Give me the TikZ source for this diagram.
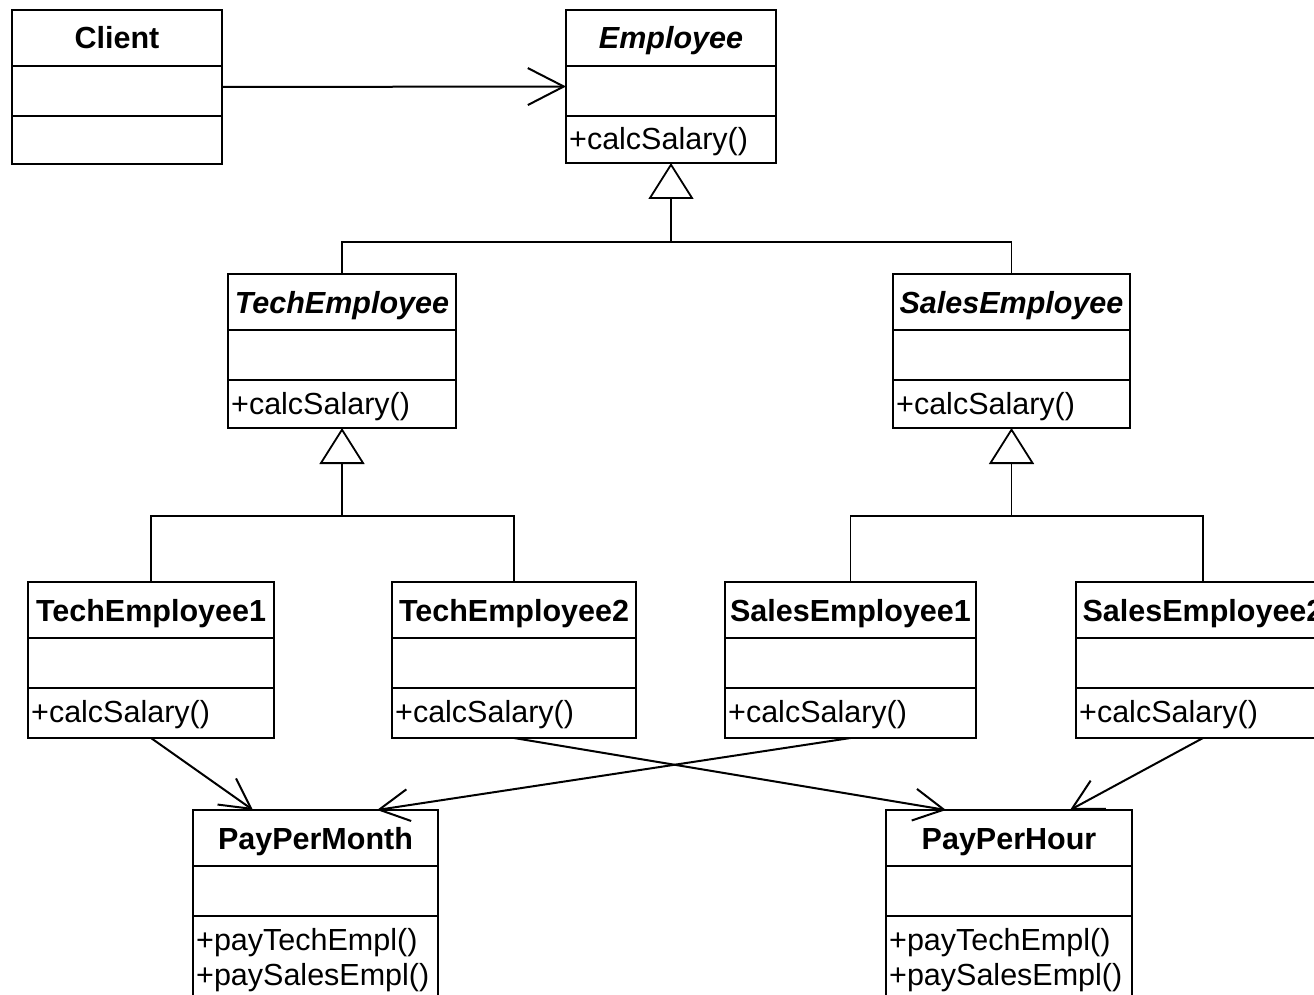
\documentclass[tikz,border=0pt]{standalone}
\usepackage{fontspec}
\setmainfont{Liberation Sans}
\usetikzlibrary{arrows.meta}
\tikzset{
  clsbox/.style={draw=black, line width=2.6pt, fill=white, inner sep=0pt, outer sep=0pt},
  divider/.style={draw=black, line width=2.6pt},
  cname/.style={inner sep=0pt, anchor=base, font=\fontsize{30.5}{36}\selectfont\bfseries},
  aname/.style={inner sep=0pt, anchor=base, font=\fontsize{30.5}{36}\selectfont\bfseries\itshape},
  meth/.style={inner sep=0pt, anchor=base west, font=\fontsize{30.5}{36}\selectfont},
  assoc/.style={draw=black, line width=2pt, -{Straight Barb[length=30pt, width=32pt]}},
  assocwide/.style={draw=black, line width=2pt, -{Straight Barb[length=36pt, width=37pt]}},
  genline/.style={draw=black, line width=1.6pt},
  genarrow/.style={draw=black, line width=1.8pt, -{Triangle[fill=white, length=36pt, width=45pt]}},
}
% #1 name, #2 x, #3 y, #4 width, #5 height, #6 title style, #7 title, #8 first method
\newcommand\UmlBox[8]{%
  \node[clsbox, minimum width=#4pt, minimum height=#5pt, anchor=north west] (#1) at (#2,#3) {};
  \draw[divider] ([yshift=-56pt]#1.north west) -- ([yshift=-56pt]#1.north east);
  \draw[divider] ([yshift=-106pt]#1.north west) -- ([yshift=-106pt]#1.north east);
  \node[#6] (#1-name) at ([yshift=-39pt]#1.north) {#7};
  \node[meth] (#1-ops) at ([xshift=3pt,yshift=-140pt]#1.north west) {#8};
}
\begin{document}
\begin{tikzpicture}[x=1pt, y=-1pt]
\useasboundingbox (0,0) rectangle (1314,995);
\fill[white] (0,0) rectangle (1314,995);
\clip (0,0) rectangle (1314,995);

\UmlBox{client}{12}{10}{210}{154}{cname}{Client}{}
\UmlBox{emp}{566}{10}{210}{153}{aname}{Employee}{+calcSalary()}

\UmlBox{tech}{228}{274}{228}{154}{aname}{TechEmployee}{+calcSalary()}
\UmlBox{sales}{893}{274}{237}{154}{aname}{SalesEmployee}{+calcSalary()}

\UmlBox{techa}{28}{582}{246}{156}{cname}{TechEmployee1}{+calcSalary()}
\UmlBox{techb}{392}{582}{244}{156}{cname}{TechEmployee2}{+calcSalary()}
\UmlBox{salesa}{725}{582}{251}{156}{cname}{SalesEmployee1}{+calcSalary()}
\UmlBox{salesb}{1076}{582}{254}{156}{cname}{SalesEmployee2}{+calcSalary()}

\UmlBox{ppm}{193}{810}{245}{220}{cname}{PayPerMonth}{+payTechEmpl()}
\node[meth] (ppm-ops2) at ([yshift=-35pt]ppm-ops.base west) {+paySalesEmpl()};
\UmlBox{pph}{886}{810}{246}{220}{cname}{PayPerHour}{+payTechEmpl()}
\node[meth] (pph-ops2) at ([yshift=-35pt]pph-ops.base west) {+paySalesEmpl()};

% association
\draw[assocwide] (client.east) -- (emp.west);

% generalization: Employee
\path (emp.south) ++(0,79) coordinate (j0);
\draw[genline] (tech.north) |- (j0);
\draw[genline] (sales.north) |- (j0);
\draw[genarrow] (j0) -- (emp.south);

% generalization: TechEmployee
\path (tech.south) ++(0,88) coordinate (j1);
\draw[genline] (techa.north) |- (j1);
\draw[genline] (techb.north) |- (j1);
\draw[genarrow] (j1) -- (tech.south);

% generalization: SalesEmployee
\path (sales.south) ++(0,88) coordinate (j2);
\draw[genline] (salesa.north) |- (j2);
\draw[genline] (salesb.north) |- (j2);
\draw[genarrow] (j2) -- (sales.south);

% bridges
\draw[assoc] (techa.south) -- ([xshift=60pt]ppm.north west);
\draw[assoc] (salesa.south) -- ([xshift=184pt]ppm.north west);
\draw[assoc] (techb.south) -- ([xshift=60pt]pph.north west);
\draw[assoc] (salesb.south) -- ([xshift=184pt]pph.north west);
\end{tikzpicture}
\end{document}
